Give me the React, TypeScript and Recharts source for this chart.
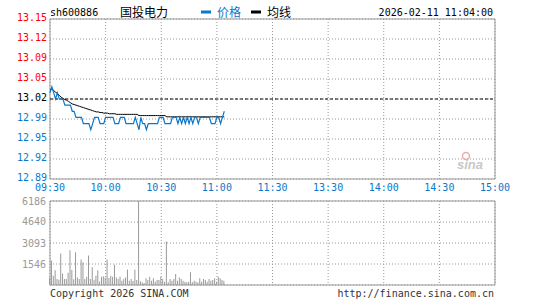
import { ComposedChart, Line, Bar, XAxis, YAxis, CartesianGrid, ReferenceLine, ReferenceArea } from 'recharts';

const PREV_CLOSE = 13.02;
const TIME_TICKS = [0, 30, 60, 90, 120, 150, 180, 210, 240];
const TIME_LABELS = ['09:30', '10:00', '10:30', '11:00', '11:30', '13:30', '14:00', '14:30', '15:00'];
const PCT_TICKS = [1, 0.75, 0.5, 0.25, 0, -0.25, -0.5, -0.75, -1];
const PRICE_LABELS = ['13.15', '13.12', '13.09', '13.05', '13.02', '12.99', '12.95', '12.92', '12.89'];
const PCT_LABELS = ['+1.00%', '+0.75%', '+0.50%', '+0.25%', '0.00%', '-0.25%', '-0.50%', '-0.75%', '-1.00%'];
const VOL_TICKS = [1546, 3093, 4640, 6186];
const VOL_LABELS = ['1546', '3093', '4640', '6186'];

// one value per minute from 09:30
const PRICE = [
  13.03, 13.04, 13.03, 13.02, 13.03, 13.02, 13.02, 13.02, 13.01, 13.01,
  13.01, 13.01, 13.0, 13.0, 12.99, 12.99, 12.99, 12.99, 12.98, 12.98,
  12.98, 12.98, 12.97, 12.98, 12.99, 12.99, 12.99, 12.98, 12.98, 12.98,
  12.99, 12.99, 12.99, 12.99, 12.99, 12.98, 12.98, 12.98, 12.99, 12.99,
  12.99, 12.98, 12.98, 12.98, 12.98, 12.98, 12.99, 12.98, 12.97, 12.99,
  12.98, 12.98, 12.97, 12.98, 12.98, 12.98, 12.98, 12.98, 12.98, 12.99,
  12.99, 12.99, 12.98, 12.98, 12.98, 12.98, 12.99, 12.99, 12.99, 12.98,
  12.99, 12.98, 12.99, 12.98, 12.99, 12.98, 12.99, 12.98, 12.99, 12.99,
  12.98, 12.99, 12.99, 12.99, 12.99, 12.99, 12.99, 12.98, 12.98, 12.98,
  12.99, 12.99, 12.98, 12.99, 13.0,
];
const AVG = [
  13.035, 13.036, 13.034, 13.031, 13.029, 13.026, 13.023, 13.021, 13.019, 13.018,
  13.016, 13.014, 13.012, 13.011, 13.01, 13.009, 13.008, 13.007, 13.006, 13.005,
  13.004, 13.003, 13.002, 13.001, 13.0, 12.999, 12.999, 12.998, 12.998, 12.997,
  12.997, 12.997, 12.996, 12.996, 12.996, 12.996, 12.995, 12.995, 12.995, 12.995,
  12.995, 12.995, 12.995, 12.995, 12.995, 12.995, 12.995, 12.995, 12.993, 12.993,
  12.993, 12.993, 12.993, 12.993, 12.993, 12.993, 12.993, 12.993, 12.993, 12.993,
  12.993, 12.993, 12.993, 12.991, 12.991, 12.991, 12.991, 12.991, 12.991, 12.991,
  12.991, 12.991, 12.991, 12.991, 12.991, 12.991, 12.991, 12.991, 12.991, 12.991,
  12.991, 12.991, 12.991, 12.991, 12.991, 12.991, 12.991, 12.991, 12.991, 12.991,
  12.991, 12.991, 12.991, 12.991, 12.991,
];
const VOLUME = [
  520, 1800, 680, 1080, 440, 380, 2320, 850, 440, 450,
  900, 2550, 1100, 420, 2420, 560, 440, 1880, 1680, 440,
  600, 2170, 440, 1300, 380, 680, 1090, 250, 610, 640,
  560, 1880, 510, 680, 610, 1500, 560, 440, 610, 320,
  440, 560, 1150, 320, 440, 300, 1150, 370, 6186, 270,
  200, 150, 490, 370, 610, 320, 490, 245, 370, 370,
  610, 440, 245, 3200, 200, 440, 320, 440, 810, 320,
  560, 440, 320, 245, 200, 245, 930, 200, 320, 245,
  200, 490, 245, 440, 370, 245, 440, 320, 370, 490,
  245, 610, 490, 370, 320,
];

const BLUE = '#0a78cd';
const RED = '#ff0000';
const MONO = '"DejaVu Sans Mono", "Liberation Mono", monospace';

const rows = PRICE.map((p, i) => ({ t: i, price: p, avg: AVG[i], vol: VOLUME[i] }));
const LOW = PREV_CLOSE * 0.99;
const HIGH = PREV_CLOSE * 1.01;
const priceTicks = PCT_TICKS.map((p) => PREV_CLOSE * (1 + p / 100));

const signColor = (pct: number) => (pct > 0 ? RED : pct < 0 ? BLUE : '#000');

const TimeTick = (props: any) => {
  const i = TIME_TICKS.indexOf(props.payload.value);
  return (
    <text x={props.x} y={props.y + 12} textAnchor="middle" fill={BLUE} fontSize={10} fontFamily={MONO}>
      {TIME_LABELS[i]}
    </text>
  );
};

const PriceTick = (props: any) => {
  const pct = Math.round((props.payload.value / PREV_CLOSE - 1) * 400) / 4;
  const i = PCT_TICKS.indexOf(pct);
  return (
    <text x={props.x - 3} y={props.y + 2} textAnchor="end" fill={signColor(pct)} fontSize={10} fontFamily={MONO}>
      {PRICE_LABELS[i]}
    </text>
  );
};

const PctTick = (props: any) => {
  const i = PCT_TICKS.indexOf(props.payload.value);
  return (
    <text x={props.x + 1} y={props.y + 2} textAnchor="start" fill={signColor(props.payload.value)} fontSize={10} fontFamily={MONO}>
      {PCT_LABELS[i]}
    </text>
  );
};

const VolTick = (props: any) => {
  const i = VOL_TICKS.indexOf(props.payload.value);
  return (
    <text x={props.x - 4} y={props.y + 3.5} textAnchor="end" fill="#999" fontSize={10} fontFamily={MONO}>
      {VOL_LABELS[i]}
    </text>
  );
};

export default function App() {
  return (
    <div style={{ position: 'absolute', left: 0, top: 0, width: 545, height: 300, background: '#fff' }}>
      <div style={{ position: 'absolute', left: 0, top: 0 }}>
        <ComposedChart width={545} height={200} data={rows} margin={{ top: 19, right: 0, bottom: 0, left: 0 }}>
          <CartesianGrid yAxisId="price" stroke="#999" strokeDasharray="1 2" />
          <XAxis
            dataKey="t"
            type="number"
            domain={[0, 240]}
            ticks={TIME_TICKS}
            interval={0}
            height={21}
            axisLine={false}
            tickLine={false}
            tickSize={0}
            tickMargin={0}
            tick={TimeTick}
          />
          <YAxis
            yAxisId="price"
            type="number"
            domain={[LOW, HIGH]}
            ticks={priceTicks}
            interval={0}
            width={50}
            axisLine={false}
            tickLine={false}
            tickSize={0}
            tickMargin={0}
            tick={PriceTick}
          />
          <YAxis
            yAxisId="pct"
            orientation="right"
            type="number"
            domain={[-1, 1]}
            ticks={PCT_TICKS}
            interval={0}
            width={50}
            axisLine={false}
            tickLine={false}
            tickSize={0}
            tickMargin={0}
            tick={PctTick}
          />
          <ReferenceLine yAxisId="price" y={PREV_CLOSE} stroke="#000" strokeDasharray="3 2" />
          <ReferenceArea yAxisId="price" x1={0} x2={240} y1={LOW} y2={HIGH} fill="none" stroke="#999" />
          <Line yAxisId="price" dataKey="avg" type="linear" stroke="#000" strokeWidth={1} dot={false} isAnimationActive={false} />
          <Line yAxisId="price" dataKey="price" type="linear" stroke={BLUE} strokeWidth={1.2} dot={false} isAnimationActive={false} />
        </ComposedChart>
      </div>
      <div style={{ position: 'absolute', left: 0, top: 190 }}>
        <ComposedChart width={545} height={100} data={rows} margin={{ top: 11, right: 50, bottom: 5, left: 0 }}>
          <CartesianGrid stroke="#999" strokeDasharray="1 2" />
          <XAxis dataKey="t" type="number" domain={[0, 240]} ticks={TIME_TICKS} interval={0} hide />
          <YAxis
            type="number"
            domain={[0, 6186]}
            ticks={VOL_TICKS}
            interval={0}
            width={50}
            axisLine={false}
            tickLine={false}
            tickSize={0}
            tickMargin={0}
            tick={VolTick}
          />
          <Bar dataKey="vol" fill="#999" barSize={1} isAnimationActive={false} />
          <ReferenceArea x1={0} x2={240} y1={0} y2={6186} fill="none" stroke="#999" />
        </ComposedChart>
      </div>
      <svg width={545} height={300} style={{ position: 'absolute', left: 0, top: 0, pointerEvents: 'none' }}>
        <text x={50} y={15.5} fontSize={10} fontFamily={MONO} fill="#000">sh600886</text>
        <text x={120} y={16.5} fontSize={12} fontFamily='"Noto Sans CJK SC"' fill="#000">国投电力</text>
        <rect x={201} y={10.5} width={10} height={3} fill={BLUE} />
        <text x={217} y={16.5} fontSize={12} fontFamily='"Noto Sans CJK SC"' fill={BLUE}>价格</text>
        <rect x={251} y={10.5} width={10} height={3} fill="#000" />
        <text x={267} y={16.5} fontSize={12} fontFamily='"Noto Sans CJK SC"' fill="#000">均线</text>
        <text x={493} y={15.5} textAnchor="end" fontSize={10} fontFamily={MONO} fill="#000">2026-02-11 11:04:00</text>
        <circle cx={466} cy={156} r={3.5} fill="none" stroke="#eaa" strokeWidth={1.5} />
        <text x={457} y={169} fontSize={13} fontStyle="italic" fontWeight="bold" fontFamily="Arial, sans-serif" fill="#c8c8c8">sina</text>
        <text x={50} y={297} fontSize={10} fontFamily={MONO} fill="#333">Copyright 2026 SINA.COM</text>
        <text x={494} y={297} textAnchor="end" fontSize={10} fontFamily={MONO} fill="#333">http://finance.sina.com.cn</text>
      </svg>
    </div>
  );
}
